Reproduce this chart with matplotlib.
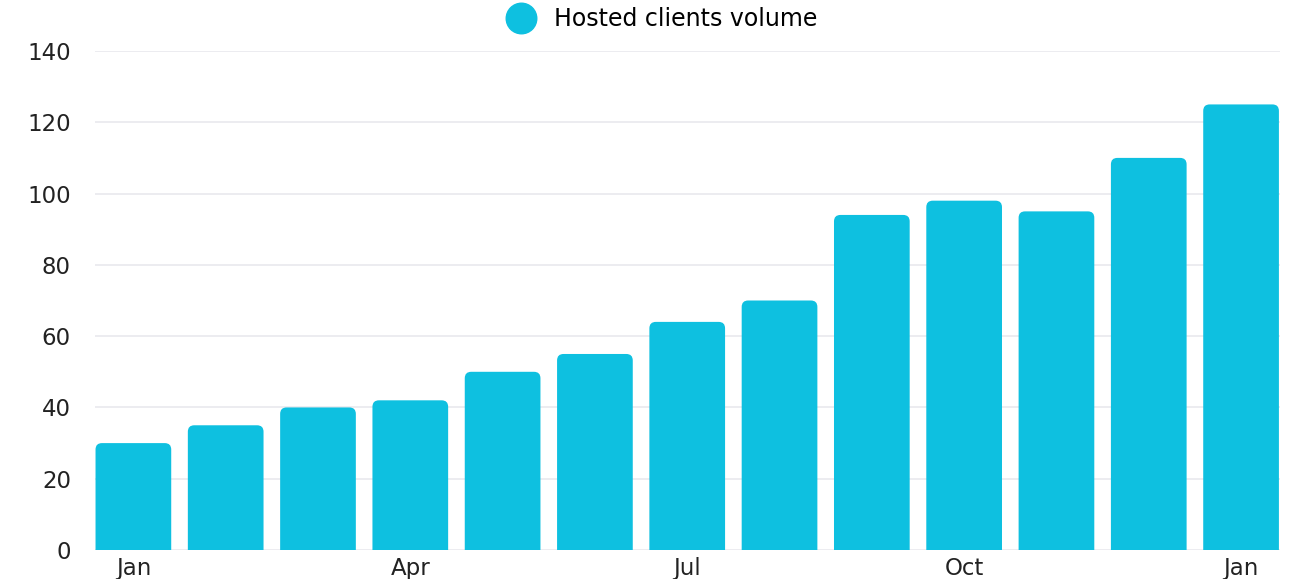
import numpy as np
import matplotlib
matplotlib.use("Agg")
import matplotlib.pyplot as plt
from matplotlib.patches import PathPatch
from matplotlib.path import Path
from matplotlib.lines import Line2D

months = ['Jan', 'Feb', 'Mar', 'Apr', 'May', 'Jun', 'Jul',
          'Aug', 'Sep', 'Oct', 'Nov', 'Dec', 'Jan']
volume = [30, 35, 40, 42, 50, 55, 64, 70, 94, 98, 95, 110, 125]
shown_ticks = [0, 3, 6, 9, 12]
yticks = [0, 20, 40, 60, 80, 100, 120, 140]

bar_color = '#0ec0e0'

plt.rcParams['font.family'] = ['DejaVu Sans']

fig = plt.figure(figsize=(13.14, 5.79), dpi=100)
ax = fig.add_axes([0.072, 0.05, 0.902, 0.862])

x = np.arange(len(volume))
bars = ax.bar(x, volume, width=0.82, color=bar_color, zorder=2)

ax.set_xlim(-0.42, 12.42)
ax.set_ylim(0, 140)
fig.canvas.draw()
px_per_x = ax.transData.transform((1, 0))[0] - ax.transData.transform((0, 0))[0]
px_per_y = ax.transData.transform((0, 1))[1] - ax.transData.transform((0, 0))[1]

# rounded top corners only: replace each bar with a path of the same size
rx = 0.07
ry = rx * px_per_x / px_per_y
for b in bars:
    x0, y0 = b.get_x(), b.get_y()
    x1, y1 = x0 + b.get_width(), y0 + b.get_height()
    b.set_visible(False)
    verts = [(x0, y0), (x0, y1 - ry), (x0, y1), (x0 + rx, y1),
             (x1 - rx, y1), (x1, y1), (x1, y1 - ry), (x1, y0), (x0, y0)]
    codes = [Path.MOVETO, Path.LINETO, Path.CURVE3, Path.CURVE3,
             Path.LINETO, Path.CURVE3, Path.CURVE3, Path.LINETO, Path.CLOSEPOLY]
    ax.add_patch(PathPatch(Path(verts, codes), fc=bar_color, ec='none',
                           lw=0, zorder=2))

ax.set_yticks(yticks)
ax.set_xticks(shown_ticks)
ax.set_xticklabels([months[i] for i in shown_ticks])
ax.grid(axis='y', color='#e9e9ee', linewidth=1.2, zorder=0)
ax.grid(axis='x', visible=False)
for s in ax.spines.values():
    s.set_visible(False)
ax.tick_params(axis='both', length=0, labelsize=16.5, colors='#222222')
ax.tick_params(axis='y', pad=17)
ax.tick_params(axis='x', pad=5)

handle = Line2D([], [], marker='o', linestyle='none', markersize=22,
                markerfacecolor=bar_color, markeredgecolor=bar_color)
fig.legend([handle], ['Hosted clients volume'], loc='upper center',
           bbox_to_anchor=(0.5, 1.025), frameon=False, fontsize=17,
           handletextpad=0.4, markerscale=1.0)

fig.savefig('out.png', dpi=100)
